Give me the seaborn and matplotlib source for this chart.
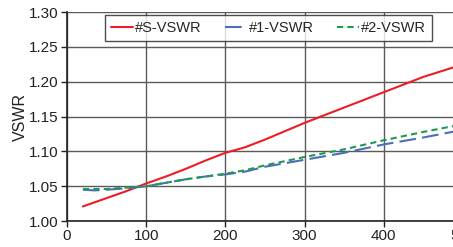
import numpy as np
import pandas as pd
import seaborn as sns
import matplotlib
matplotlib.use('Agg')
import matplotlib.pyplot as plt

# frequency points and VSWR readings per antenna
freq = [20, 35, 50, 75, 100, 125, 150, 175, 200, 225, 250, 300, 350, 400, 450, 500]
vswr_s = [1.021, 1.027, 1.033, 1.043, 1.054, 1.064, 1.075, 1.087, 1.098, 1.106, 1.117, 1.141, 1.163, 1.185, 1.207, 1.225]
vswr_1 = [1.045, 1.044, 1.045, 1.047, 1.050, 1.055, 1.060, 1.064, 1.067, 1.071, 1.078, 1.088, 1.098, 1.110, 1.120, 1.131]
vswr_2 = [1.046, 1.046, 1.046, 1.048, 1.050, 1.055, 1.060, 1.064, 1.068, 1.073, 1.080, 1.092, 1.103, 1.116, 1.128, 1.139]
names = ['#S-VSWR', '#1-VSWR', '#2-VSWR']

df = pd.DataFrame({'freq': freq, names[0]: vswr_s, names[1]: vswr_1, names[2]: vswr_2})
long = df.melt(id_vars='freq', var_name='series', value_name='vswr')

sns.set_style('white')
plt.rcParams['font.family'] = ['Liberation Sans', 'DejaVu Sans']

fig = plt.figure(figsize=(4.53, 2.47), dpi=100)
ax = fig.add_axes([0.148, 0.105, 0.874, 0.846])

palette = {names[0]: '#ee1c24', names[1]: '#4a6fba', names[2]: '#1f9950'}
sns.lineplot(data=long, x='freq', y='vswr', hue='series', style='series',
             palette=palette, dashes={names[0]: '', names[1]: (8, 3), names[2]: (3, 2)},
             linewidth=1.5, ax=ax, legend=True)

ax.set_xlim(0, 500)
ax.set_ylim(1.0, 1.3)
ax.set_xticks([0, 100, 200, 300, 400, 500])
ax.set_yticks(np.arange(1.0, 1.301, 0.05))
ax.set_yticklabels(['%.2f' % v for v in np.arange(1.0, 1.301, 0.05)])
ax.grid(True, color='#5a5a5a', linewidth=1.0)
ax.set_axisbelow(True)
ax.set_xlabel('')
ax.set_ylabel('VSWR', fontsize=11.5, color='#222222', labelpad=1)
ax.tick_params(axis='both', labelsize=11, colors='#222222', length=4, width=1, direction='out',
               bottom=True, left=True, pad=2)
for side in ['top', 'right']:
    ax.spines[side].set_visible(False)
for side in ['left', 'bottom']:
    ax.spines[side].set_color('#222222')
    ax.spines[side].set_linewidth(1.2)

leg = ax.legend(loc='upper center', bbox_to_anchor=(0.509, 0.985), ncol=3, fontsize=10.5,
                frameon=True, fancybox=False, handlelength=1.5, columnspacing=1.6,
                handletextpad=0.15, borderpad=0.4, borderaxespad=0, title=None)
leg.get_frame().set_edgecolor('#222222')
leg.get_frame().set_linewidth(1.0)

fig.savefig('out.png', dpi=100)
